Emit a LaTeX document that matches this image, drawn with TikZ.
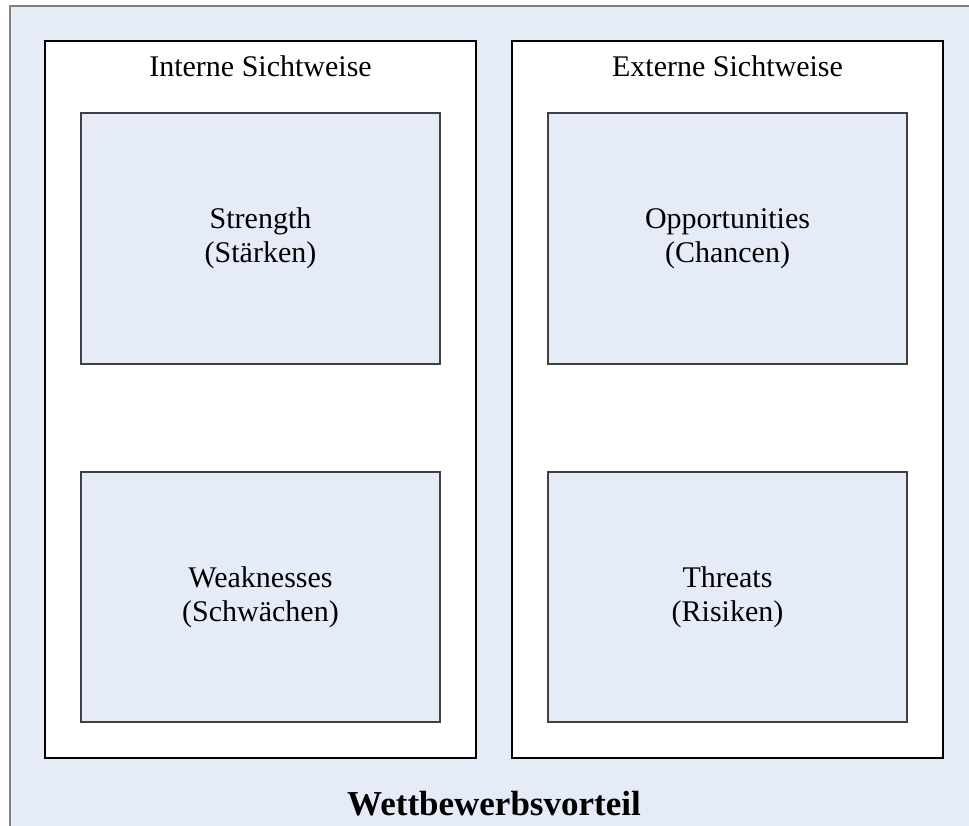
\documentclass[tikz,border=0pt]{standalone}
\usepackage{fontspec}
\setmainfont{Liberation Serif}
\definecolor{paneblue}{RGB}{229,236,247}
\definecolor{frameline}{RGB}{128,128,128}
\definecolor{cellline}{RGB}{64,64,64}
\tikzset{
  frame/.style={draw=frameline, line width=2pt, fill=paneblue},
  viewbox/.style={draw=black, line width=2.4pt, fill=white, inner sep=0pt,
                  minimum width=431pt, minimum height=717pt},
  cell/.style={draw=cellline, line width=1.4pt, fill=paneblue, inner sep=0pt,
               minimum width=359pt, align=center,
               font=\fontsize{30}{34}\selectfont},
  heading/.style={anchor=base, inner sep=0pt, font=\fontsize{30}{34}\selectfont},
  caption/.style={anchor=base, inner sep=0pt, font=\fontsize{35}{40}\selectfont\bfseries}
}
\begin{document}
\begin{tikzpicture}[x=1pt, y=-1pt]
  \useasboundingbox (0,0) rectangle (969,825);
  \clip (0,0) rectangle (969,825);
  % outer frame, open to the right and bottom
  \draw[frame] (10,6) rectangle (990,850);

  % the two views
  \node[viewbox] (intern) at (260.5,399.5) {};
  \node[viewbox] (extern) at (727.5,399.5) {};

  \node[heading] (internTitle) at (260.5,76) {Interne Sichtweise};
  \node[heading] (externTitle) at (727.5,76) {Externe Sichtweise};

  % SWOT cells
  \node[cell, minimum height=251pt] (strength) at (260.5,238.5) {Strength\\(Stärken)};
  \node[cell, minimum height=250pt] (weak) at (260.5,597) {Weaknesses\\(Schwächen)};
  \node[cell, minimum height=251pt] (opp) at (727.5,238.5) {Opportunities\\(Chancen)};
  \node[cell, minimum height=250pt] (threat) at (727.5,597) {Threats\\(Risiken)};

  \node[caption] (result) at (494,815) {Wettbewerbsvorteil};
\end{tikzpicture}
\end{document}
